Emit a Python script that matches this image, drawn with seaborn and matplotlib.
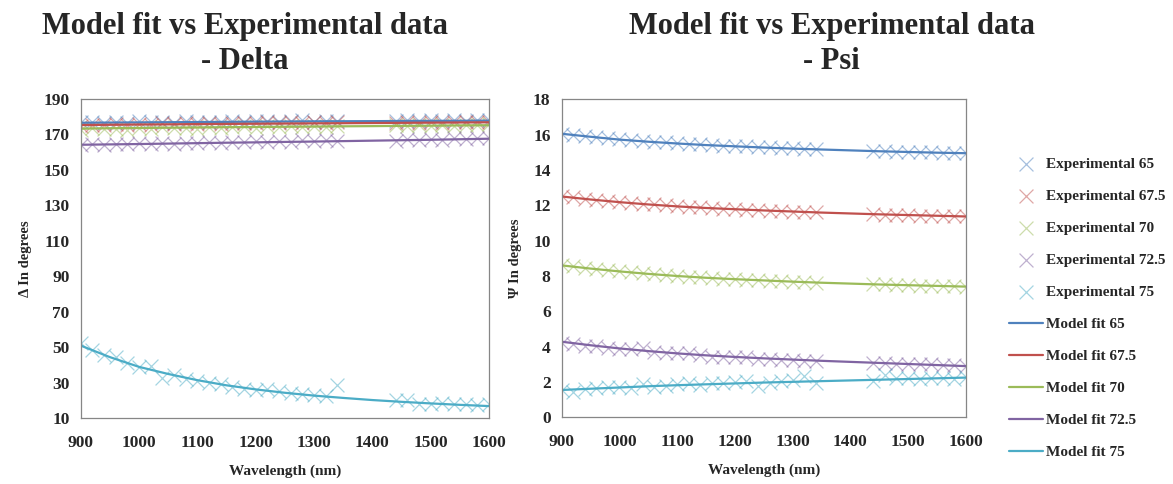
import matplotlib
matplotlib.use("Agg")
import matplotlib.pyplot as plt
import seaborn as sns
import pandas as pd

# experimental wavelengths (two measured bands, gap between 1340 and 1440 nm)
wl_exp = [900, 920, 940, 960, 980, 1000, 1020, 1040, 1060, 1080, 1100, 1120,
          1140, 1160, 1180, 1200, 1220, 1240, 1260, 1280, 1300, 1320, 1340,
          1440, 1460, 1480, 1500, 1520, 1540, 1560, 1580, 1600]
# model fit wavelengths
wl_fit = [900, 950, 1000, 1050, 1100, 1150, 1200, 1250, 1300, 1350, 1400,
          1450, 1500, 1550, 1600]

angles = ["65", "67.5", "70", "72.5", "75"]
colors = ["#4F81BD", "#C0504D", "#9BBB59", "#8064A2", "#4BACC6"]

# Delta (degrees)
delta_exp_65 = [176.8, 177.3, 176.4, 177.0, 176.6, 177.4, 176.9, 177.2, 176.7, 177.5, 177.0, 177.3,
                176.9, 177.6, 177.1, 177.4, 177.8, 177.2, 177.6, 177.9, 177.3, 177.7, 177.4,
                177.6, 177.9, 177.5, 178.0, 177.7, 178.1, 177.8, 178.2, 177.9]
delta_exp_675 = [175.0, 175.6, 175.2, 175.9, 175.5, 176.1, 175.4, 176.2, 175.8, 176.4, 175.9, 176.3,
                 176.0, 176.6, 176.2, 176.5, 176.8, 176.3, 176.9, 176.5, 177.0, 176.6, 176.9,
                 176.4, 176.9, 176.6, 177.1, 176.7, 177.2, 176.8, 177.3, 177.0]
delta_exp_70 = [172.4, 173.6, 172.8, 173.2, 172.5, 173.9, 173.1, 174.2, 173.4, 173.8, 173.0, 174.4,
                173.6, 174.0, 174.5, 173.8, 174.6, 174.2, 175.0, 174.4, 174.9, 174.3, 174.7,
                175.4, 174.6, 175.2, 174.8, 175.6, 175.0, 175.5, 175.2, 175.8]
delta_exp_725 = [164.0, 164.6, 164.3, 164.8, 164.4, 165.0, 164.6, 165.3, 164.9, 165.4, 165.1, 165.7,
                 165.3, 165.9, 165.5, 166.1, 165.8, 166.3, 166.0, 166.6, 166.3, 166.8, 166.5,
                 166.2, 167.3, 166.8, 167.6, 167.1, 167.9, 167.5, 168.1, 167.8]
delta_exp_75 = [52.2, 48.5, 45.9, 44.4, 41.0, 38.8, 39.7, 32.8, 34.7, 32.2, 31.3, 29.8,
                29.4, 27.6, 26.3, 26.1, 26.6, 25.3, 24.2, 23.5, 22.9, 22.3, 28.5,
                20.5, 20.5, 18.2, 17.9, 18.6, 18.2, 17.9, 17.3, 18.0]

delta_fit_65 = [176.6, 176.7, 176.8, 176.9, 177.0, 177.1, 177.2, 177.3, 177.4, 177.45, 177.5,
                177.6, 177.65, 177.7, 177.8]
delta_fit_675 = [175.3, 175.45, 175.6, 175.7, 175.85, 175.95, 176.05, 176.15, 176.25, 176.35,
                 176.45, 176.55, 176.65, 176.75, 176.85]
delta_fit_70 = [173.3, 173.5, 173.65, 173.8, 173.95, 174.1, 174.2, 174.35, 174.45, 174.6, 174.7,
                174.85, 174.95, 175.1, 175.2]
delta_fit_725 = [164.2, 164.4, 164.6, 164.85, 165.1, 165.35, 165.55, 165.8, 166.0, 166.25, 166.5,
                 166.75, 167.0, 167.3, 167.6]
delta_fit_75 = [51.0, 44.5, 39.0, 35.0, 31.5, 28.6, 26.3, 24.4, 22.8, 21.5, 20.3, 19.3, 18.4,
                17.6, 16.9]

# Psi (degrees)
psi_exp_65 = [16.05, 15.98, 15.92, 15.85, 15.80, 15.74, 15.70, 15.65, 15.60, 15.56, 15.52, 15.48,
              15.45, 15.42, 15.38, 15.35, 15.33, 15.30, 15.28, 15.25, 15.23, 15.20, 15.18,
              15.08, 15.06, 15.04, 15.02, 15.00, 14.99, 14.97, 14.96, 14.95]
psi_exp_675 = [12.52, 12.45, 12.38, 12.32, 12.26, 12.20, 12.15, 12.10, 12.05, 12.00, 11.96, 11.92,
               11.88, 11.85, 11.82, 11.78, 11.75, 11.72, 11.70, 11.67, 11.65, 11.62, 11.60,
               11.50, 11.48, 11.46, 11.44, 11.42, 11.41, 11.40, 11.39, 11.38]
psi_exp_70 = [8.62, 8.55, 8.47, 8.40, 8.33, 8.27, 8.21, 8.15, 8.10, 8.05, 8.00, 7.96,
              7.92, 7.88, 7.85, 7.82, 7.79, 7.76, 7.73, 7.70, 7.68, 7.66, 7.63,
              7.55, 7.52, 7.50, 7.48, 7.46, 7.44, 7.43, 7.42, 7.40]
psi_exp_725 = [4.23, 4.13, 4.04, 4.04, 3.90, 3.85, 3.85, 3.90, 3.72, 3.66, 3.62, 3.66,
               3.53, 3.43, 3.43, 3.40, 3.40, 3.28, 3.28, 3.25, 3.25, 3.19, 3.19,
               3.06, 3.06, 3.02, 3.02, 3.00, 3.00, 2.96, 2.96, 2.90]
psi_exp_75 = [1.55, 1.45, 1.58, 1.64, 1.70, 1.70, 1.64, 1.89, 1.74, 1.77, 1.89, 1.92,
              1.83, 1.96, 1.96, 2.02, 2.06, 1.77, 1.92, 2.06, 2.11, 2.34, 1.92,
              2.06, 2.40, 2.20, 2.20, 2.15, 2.25, 2.20, 2.15, 2.30]

psi_fit_65 = [16.05, 15.88, 15.72, 15.60, 15.50, 15.41, 15.34, 15.27, 15.21, 15.16, 15.11,
              15.06, 15.02, 14.98, 14.95]
psi_fit_675 = [12.50, 12.33, 12.18, 12.05, 11.94, 11.85, 11.78, 11.71, 11.65, 11.59, 11.54,
               11.49, 11.45, 11.41, 11.37]
psi_fit_70 = [8.60, 8.42, 8.26, 8.12, 8.00, 7.90, 7.82, 7.75, 7.68, 7.62, 7.57, 7.52, 7.48,
              7.44, 7.40]
psi_fit_725 = [4.28, 4.08, 3.90, 3.75, 3.62, 3.51, 3.42, 3.34, 3.27, 3.20, 3.14, 3.08, 3.02,
               2.96, 2.90]
psi_fit_75 = [1.55, 1.62, 1.69, 1.76, 1.82, 1.87, 1.92, 1.97, 2.01, 2.05, 2.09, 2.13, 2.17,
              2.21, 2.25]

delta_exp = [delta_exp_65, delta_exp_675, delta_exp_70, delta_exp_725, delta_exp_75]
delta_fit = [delta_fit_65, delta_fit_675, delta_fit_70, delta_fit_725, delta_fit_75]
psi_exp = [psi_exp_65, psi_exp_675, psi_exp_70, psi_exp_725, psi_exp_75]
psi_fit = [psi_fit_65, psi_fit_675, psi_fit_70, psi_fit_725, psi_fit_75]

sns.set_style("white")
plt.rcParams["font.family"] = ["Liberation Serif", "DejaVu Serif"]
plt.rcParams["font.weight"] = "bold"

fig = plt.figure(figsize=(11.73, 4.84), dpi=100)
ax_d = fig.add_axes([0.0688, 0.1357, 0.3481, 0.6598])
ax_p = fig.add_axes([0.4789, 0.1377, 0.3444, 0.6571])


def draw(ax, exp, fit):
    for name, col, ye in zip(angles, colors, exp):
        sns.scatterplot(x=wl_exp, y=ye, ax=ax, marker="x", color=col, s=100,
                        linewidth=0.9, alpha=0.5, label=f"Experimental {name}")
    for name, col, yf in zip(angles, colors, fit):
        sns.lineplot(x=wl_fit, y=yf, ax=ax, color=col, linewidth=1.6,
                     label=f"Model fit {name}")


draw(ax_d, delta_exp, delta_fit)
draw(ax_p, psi_exp, psi_fit)

ax_d.set_xlim(900, 1600)
ax_d.set_ylim(10, 190)
ax_d.set_yticks(range(10, 191, 20))
ax_p.set_xlim(900, 1600)
ax_p.set_ylim(0, 18)
ax_p.set_yticks(range(0, 19, 2))

for ax in (ax_d, ax_p):
    ax.set_xticks(range(900, 1601, 100))
    for sp in ax.spines.values():
        sp.set_color("#868686")
        sp.set_linewidth(0.9)
    ax.tick_params(direction="in", length=4, color="#868686", labelsize=12.5, pad=12)
    ax.tick_params(axis="y", pad=8)
    for lab in ax.get_xticklabels() + ax.get_yticklabels():
        lab.set_fontweight("bold")
    ax.set_xlabel("Wavelength (nm)", fontsize=11, fontweight="bold", labelpad=10)
    ax.grid(False)

ax_d.set_ylabel("Δ In degrees", fontsize=10.5, fontweight="bold", labelpad=8)
ax_p.set_ylabel("Ψ In degrees", fontsize=10.5, fontweight="bold", labelpad=8)

handles, labels = ax_p.get_legend_handles_labels()
ax_d.get_legend().remove()
ax_p.get_legend().remove()
fig.legend(handles, labels, loc="upper left", bbox_to_anchor=(0.8486, 0.703),
           frameon=False, prop={"weight": "bold", "size": 11},
           labelspacing=1.2, handlelength=2.2, handletextpad=0.2)

fig.text(0.209, 0.975, "Model fit vs Experimental data\n- Delta", ha="center", va="top",
         fontsize=22, fontweight="bold", linespacing=1.25)
fig.text(0.709, 0.975, "Model fit vs Experimental data\n- Psi", ha="center", va="top",
         fontsize=22, fontweight="bold", linespacing=1.25)

fig.savefig("out.png", dpi=100)
plt.close(fig)
